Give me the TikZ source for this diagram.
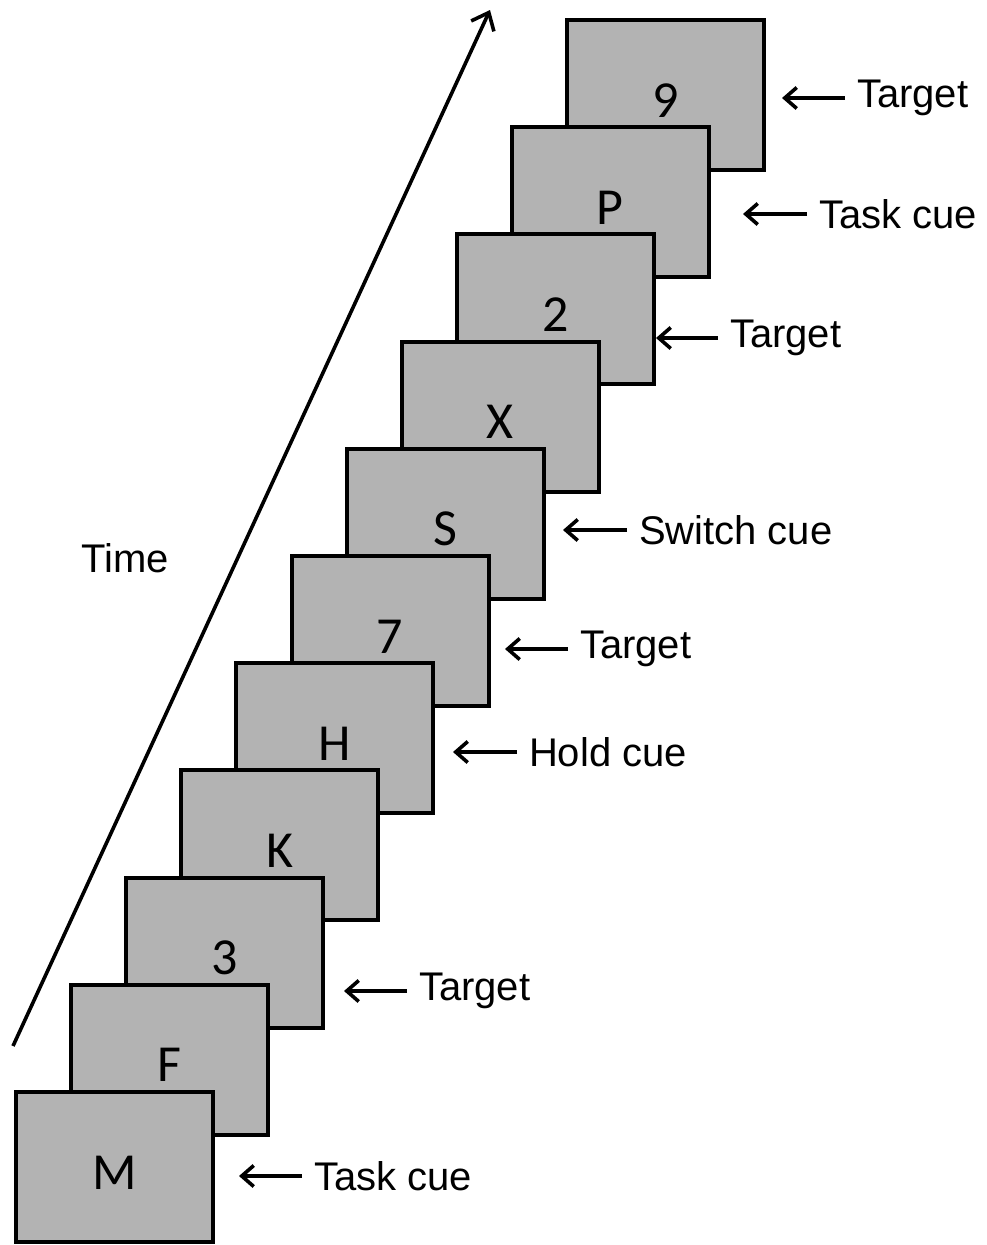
\documentclass[tikz,border=0pt]{standalone}
\usepackage{fontspec}
\setmainfont{Liberation Sans}
\newfontfamily\boxfont{Carlito}
\usepackage{xcolor}
\usepackage{tikz}
\usetikzlibrary{arrows.meta,positioning,calc}

\definecolor{screengray}{RGB}{179,179,179}

\begin{document}
\begin{tikzpicture}[x=1pt, y=-1pt,
  screen/.style={draw=black, fill=screengray, line width=4pt,
    minimum width=197pt, minimum height=150pt, inner sep=0pt,
    font=\boxfont\fontsize{52}{52}\selectfont, text height=44pt, text depth=0pt},
  cue/.style={anchor=west, inner xsep=12pt, inner ysep=0pt, outer sep=0pt,
    font=\fontsize{40}{40}\selectfont},
  cuearrow/.style={-{Straight Barb[length=12pt, width=21pt]}, line width=3.6pt},
  timearrow/.style={-{Straight Barb[length=15pt, width=25pt]}, line width=3.6pt}]
  \useasboundingbox (0,0) rectangle (986,1245);

  % Screens, last one first so that the first lies on top
  \foreach \i/\ch in {10/9, 9/P, 8/2, 7/X, 6/S, 5/7, 4/H, 3/K, 2/3, 1/F, 0/M}
    \node[screen] (s\i) at ({114.5+55.1*\i}, {1167-107.2*\i}) {\ch};

  % Time axis
  \coordinate (tstart) at (13,1046);
  \coordinate (tend) at (490,10);
  \draw[timearrow] (tstart) -- (tend);
  \node[font=\fontsize{40}{40}\selectfont] (time) at (125,558) {Time};

  % Cue labels
  \node[cue] (c0) at (302,1176) {Task cue};
  \node[cue] (c2) at (407,991) {Target};
  \node[cue] (c4) at (517,752) {Hold cue};
  \node[cue] (c5) at (568,649) {Target};
  \node[cue] (c6) at (627,530) {Switch cue};
  \node[cue] (c8) at (718,338) {Target};
  \node[cue] (c9) at (807,214) {Task cue};
  \node[cue] (c10) at (845,98) {Target};

  % Arrow tips
  \coordinate (t0) at (239,1176);
  \coordinate (t2) at (344,991);
  \coordinate (t4) at (453,752);
  \coordinate (t5) at (505,649);
  \coordinate (t6) at (563,530);
  \coordinate (t8) at (656,338);
  \coordinate (t9) at (743,214);
  \coordinate (t10) at (782,98);

  \foreach \k in {0,2,4,5,6,8,9,10}
    \draw[cuearrow] (c\k.west) -- (t\k);
\end{tikzpicture}
\end{document}
